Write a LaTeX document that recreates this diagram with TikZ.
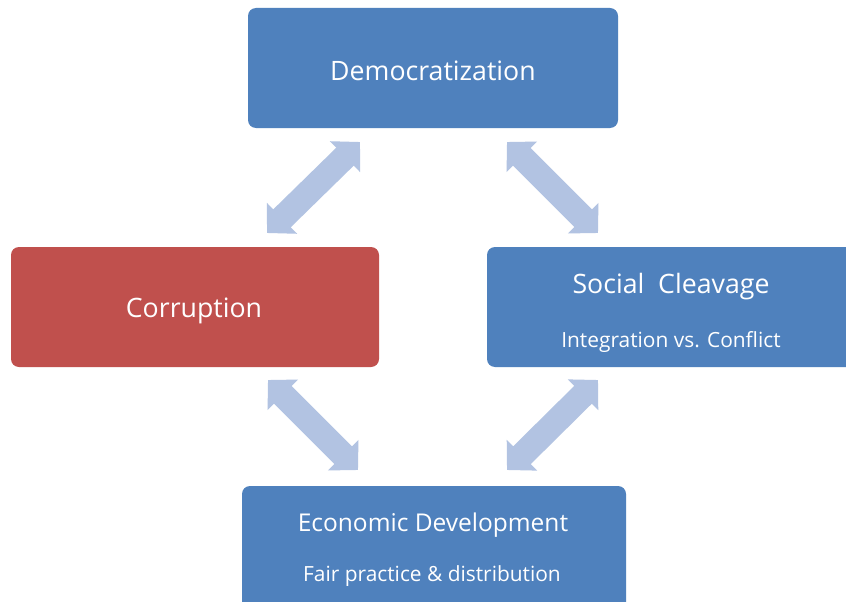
\documentclass[tikz,border=0pt]{standalone}
\usepackage{fontspec}
\setmainfont{Open Sans}
\usetikzlibrary{arrows.meta}
\definecolor{boxblue}{RGB}{79,129,189}
\definecolor{boxred}{RGB}{192,80,77}
\definecolor{linkblue}{RGB}{178,195,226}
\tikzset{
  box/.style={rectangle, rounded corners=8pt, draw=none, inner sep=0pt},
  title/.style={text=white, font=\fontsize{26.7}{30}\selectfont, inner sep=0pt},
  subtitle/.style={text=white, font=\fontsize{20.9}{24}\selectfont, inner sep=0pt},
  link/.style={draw=linkblue, line width=25pt,
    {Triangle[length=21pt,width=42pt]}-{Triangle[length=21pt,width=42pt]}}
}
\begin{document}
\begin{tikzpicture}[x=1pt,y=-1pt]
\useasboundingbox (0,0) rectangle (846,602);
\clip (0,0) rectangle (846,602);
\fill[white] (0,0) rectangle (846,602);

% the four boxes
\node[box, fill=boxblue, minimum width=370pt, minimum height=120pt] (dem) at (433,68) {};
\node[box, fill=boxred, minimum width=368pt, minimum height=120pt] (cor) at (195,307) {};
\node[box, fill=boxblue, minimum width=370pt, minimum height=120pt] (soc) at (672,307) {};
\node[box, fill=boxblue, minimum width=384pt, minimum height=124pt] (eco) at (434,548) {};

% box texts
\node[title] (demt) at (433,71) {Democratization};
\node[title] (cort) at (194,311) {Corruption};
\node[title] (soct) at (671,287) {Social\ \ Cleavage};
\node[subtitle] (socs) at (671,342) {Integration vs. Conflict};
\node[title, font=\fontsize{24.5}{28}\selectfont] (ecot) at (433,525) {Economic Development};
\node[subtitle] (ecos) at (432,576) {Fair practice \& distribution};

% ends of the two-way links
\coordinate (l1a) at (360,142);
\coordinate (l1b) at (267,233);
\coordinate (l2a) at (507,142);
\coordinate (l2b) at (598,233);
\coordinate (l3a) at (268,380);
\coordinate (l3b) at (358,470);
\coordinate (l4a) at (598,380);
\coordinate (l4b) at (507,470);

\draw[link] (l1a) -- (l1b);
\draw[link] (l2a) -- (l2b);
\draw[link] (l3a) -- (l3b);
\draw[link] (l4a) -- (l4b);
\end{tikzpicture}
\end{document}
